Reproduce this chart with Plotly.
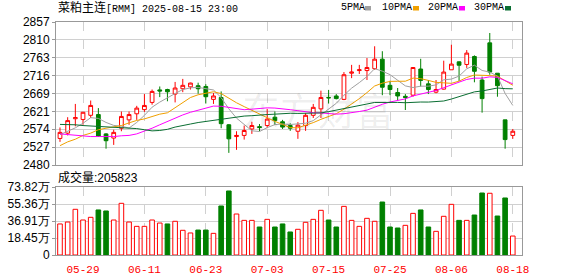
import plotly.graph_objects as go

# ---------------- data ----------------
dates = ["05-26", "05-27", "05-28", "05-29", "05-30", "06-03", "06-04", "06-05", "06-06", "06-09",
         "06-10", "06-11", "06-12", "06-13", "06-16", "06-17", "06-18", "06-19", "06-20", "06-23",
         "06-24", "06-25", "06-26", "06-27", "06-30", "07-01", "07-02", "07-03", "07-04", "07-07",
         "07-08", "07-09", "07-10", "07-11", "07-14", "07-15", "07-16", "07-17", "07-18", "07-21",
         "07-22", "07-23", "07-24", "07-25", "07-28", "07-29", "07-30", "07-31", "08-01", "08-04",
         "08-05", "08-06", "08-07", "08-08", "08-11", "08-12", "08-13", "08-14", "08-15", "08-18"]

opens = [2550, 2564, 2602, 2600, 2611, 2613, 2562, 2551, 2577, 2599,
         2615, 2626, 2645, 2678, 2679, 2667, 2681, 2686, 2689, 2687,
         2653, 2658, 2586, 2555, 2558, 2575, 2581, 2584, 2606, 2594,
         2584, 2569, 2584, 2611, 2628, 2658, 2662, 2653, 2722, 2729,
         2729, 2734, 2759, 2690, 2671, 2661, 2664, 2733, 2694, 2672,
         2680, 2731, 2752, 2745, 2766, 2704, 2802, 2722, 2599, 2558]
highs = [2579, 2606, 2641, 2620, 2650, 2630, 2564, 2573, 2621, 2621,
         2636, 2667, 2679, 2687, 2681, 2699, 2707, 2697, 2697, 2693,
         2670, 2674, 2588, 2569, 2584, 2594, 2588, 2628, 2621, 2599,
         2590, 2593, 2617, 2641, 2676, 2678, 2667, 2725, 2744, 2744,
         2762, 2793, 2780, 2702, 2683, 2667, 2738, 2760, 2704, 2704,
         2755, 2797, 2753, 2783, 2769, 2713, 2828, 2722, 2599, 2575]
lows = [2541, 2558, 2582, 2586, 2604, 2555, 2523, 2533, 2569, 2586,
        2599, 2620, 2639, 2659, 2648, 2645, 2672, 2679, 2668, 2642,
        2641, 2577, 2512, 2520, 2547, 2562, 2569, 2577, 2586, 2575,
        2570, 2549, 2570, 2604, 2604, 2642, 2653, 2651, 2709, 2720,
        2704, 2731, 2664, 2664, 2651, 2625, 2660, 2687, 2667, 2669,
        2679, 2731, 2701, 2736, 2698, 2618, 2718, 2660, 2523, 2549]
closes = [2566, 2597, 2605, 2619, 2637, 2556, 2544, 2566, 2608, 2613,
          2630, 2637, 2674, 2675, 2673, 2683, 2690, 2696, 2681, 2660,
          2662, 2589, 2549, 2558, 2571, 2584, 2579, 2601, 2597, 2580,
          2577, 2585, 2611, 2632, 2658, 2657, 2655, 2718, 2725, 2731,
          2737, 2759, 2685, 2679, 2662, 2658, 2737, 2703, 2679, 2679,
          2725, 2746, 2743, 2775, 2727, 2655, 2725, 2689, 2547, 2569]

ma5 = [2560, 2568, 2578, 2590, 2604.8, 2602.8, 2592.2, 2584.4, 2582.2, 2577.4,
       2592.2, 2610.8, 2632.4, 2645.8, 2657.8, 2668.4, 2679, 2683.4, 2684.6, 2682,
       2677.8, 2657.6, 2628.2, 2603.6, 2585.8, 2570.2, 2568.2, 2578.6, 2586.4, 2588.2,
       2586.8, 2588, 2590, 2597, 2612.6, 2628.6, 2642.6, 2664, 2682.6, 2697.2,
       2713.2, 2734, 2727.4, 2718.2, 2704.4, 2688.6, 2684.2, 2687.8, 2687.8, 2691.2,
       2704.6, 2706.4, 2714.4, 2733.6, 2743.2, 2729.2, 2725, 2714.2, 2668.6, 2637]
ma10 = [2531, 2541, 2548, 2558, 2564, 2573, 2577, 2580, 2584, 2591.1,
        2597.5, 2601.5, 2608.4, 2614, 2617.6, 2630.3, 2644.9, 2657.9, 2665.2, 2669.9,
        2673.1, 2668.3, 2655.8, 2644.1, 2633.9, 2624, 2612.9, 2603.4, 2595, 2587,
        2578.5, 2578.1, 2584.3, 2591.7, 2600.4, 2607.7, 2615.3, 2627, 2639.8, 2654.9,
        2670.9, 2688.3, 2695.7, 2700.4, 2700.8, 2700.9, 2709.1, 2707.6, 2703, 2697.8,
        2696.6, 2695.3, 2701.1, 2710.7, 2717.2, 2716.9, 2715.7, 2714.3, 2701.1, 2690.1]
ma20 = [2562, 2560, 2558, 2556, 2555, 2555, 2555, 2555, 2557, 2558,
        2562, 2569, 2577, 2586, 2595, 2604, 2612, 2619, 2625, 2630.5,
        2635.3, 2634.9, 2632.1, 2629.1, 2625.8, 2627.2, 2628.9, 2630.7, 2630.1, 2628.5,
        2625.8, 2623.2, 2620.1, 2617.9, 2617.2, 2615.9, 2614.1, 2615.2, 2617.4, 2621,
        2624.7, 2633.2, 2640, 2646.1, 2650.6, 2654.3, 2662.2, 2667.3, 2671.4, 2676.4,
        2683.8, 2691.8, 2698.4, 2705.6, 2709, 2708.9, 2712.4, 2711, 2702.1, 2694]
ma30 = [2587, 2587, 2586, 2584, 2583, 2582, 2581, 2580, 2579, 2578,
        2576, 2573, 2570, 2571, 2574, 2580, 2585, 2588, 2592, 2595,
        2598, 2601, 2604, 2606, 2609, 2610, 2612, 2613, 2614, 2616,
        2616.4, 2616, 2616.2, 2616.6, 2617.3, 2620.7, 2624.4, 2629.4, 2633.3, 2637.3,
        2640.8, 2644.9, 2645.3, 2645.4, 2645, 2644.2, 2645.8, 2646, 2645.9, 2646.6,
        2648.7, 2653.9, 2660.4, 2667.6, 2672.8, 2675.2, 2680, 2683, 2681.3, 2680.9]

volumes = [337000, 358000, 496000, 380000, 409000, 489000, 478000, 380000, 561000, 358000,
           311000, 311000, 380000, 347000, 337000, 366000, 268000, 239000, 271000, 271000,
           235000, 532000, 695000, 445000, 376000, 376000, 304000, 387000, 304000, 337000,
           250000, 279000, 355000, 387000, 485000, 380000, 304000, 528000, 376000, 311000,
           398000, 366000, 575000, 304000, 293000, 322000, 452000, 489000, 304000, 257000,
           420000, 550000, 376000, 376000, 434000, 673000, 670000, 423000, 619000, 205823]
vol_dir = ["U", "U", "U", "U", "U", "D", "D", "U", "U", "U",
           "U", "U", "U", "U", "D", "U", "U", "U", "D", "D",
           "U", "D", "D", "U", "U", "U", "D", "U", "D", "D",
           "D", "U", "U", "U", "U", "D", "D", "U", "U", "U",
           "U", "U", "D", "D", "D", "U", "U", "D", "D", "U",
           "U", "U", "D", "U", "D", "D", "U", "D", "D", "U"]

tick_dates = ["05-29", "06-11", "06-23", "07-03", "07-15", "07-25", "08-06", "08-18"]
price_ticks = [2480, 2527.125, 2574.25, 2621.375, 2668.5, 2715.625, 2762.75, 2809.875, 2857]
price_labels = ["2480", "2527", "2574", "2621", "2669", "2716", "2763", "2810", "2857"]
vol_ticks = [0, 184550, 369100, 553650, 738200]
vol_labels = ["0", "18.45万", "36.91万", "55.36万", "73.82万"]

title_name = "菜粕主连"
title_rest = "[RMM] 2025-08-15 23:00"
vol_title = "成交量:205823"
ma_names = ["5PMA", "10PMA", "20PMA", "30PMA"]

# ---------------- style ----------------
RED = "#ff0000"
GREEN = "#008000"
MA_COLORS = ["#a0a0a0", "#f0a000", "#ff00ff", "#0a6e32"]
GRID = "#d0d0d0"
FRAME = "#999999"

W, H = 578, 276
L, R, T, B = 56, 56, 22, 21
PW = W - L - R
PH = H - T - B


def px(x):
    return (x - L) / PW


def py(y):
    return (H - B - y) / PH


fig = go.Figure()

fig.add_trace(go.Candlestick(
    x=dates, open=opens, high=highs, low=lows, close=closes,
    xaxis="x", yaxis="y",
    increasing=dict(line=dict(color=RED, width=1), fillcolor="#ffffff"),
    decreasing=dict(line=dict(color=GREEN, width=1), fillcolor=GREEN),
    whiskerwidth=0, showlegend=False,
))

for name, vals, col in zip(ma_names, [ma5, ma10, ma20, ma30], MA_COLORS):
    fig.add_trace(go.Scatter(
        x=dates, y=vals, mode="lines", name=name,
        line=dict(color=col, width=1), xaxis="x", yaxis="y", showlegend=False,
    ))

fill_cols = ["#ffffff" if d == "U" else GREEN for d in vol_dir]
line_cols = [RED if d == "U" else GREEN for d in vol_dir]
fig.add_trace(go.Bar(
    x=dates, y=volumes, xaxis="x2", yaxis="y2", width=0.6,
    marker=dict(color=fill_cols, line=dict(color=line_cols, width=1)),
    showlegend=False,
))

xrange = [-0.52, 60.2]
common_x = dict(
    type="category", range=xrange, tickvals=tick_dates, ticktext=tick_dates,
    showgrid=True, gridcolor=GRID, griddash="dash", gridwidth=1,
    showline=True, linecolor=FRAME, linewidth=1, mirror=True,
    zeroline=False, fixedrange=True, automargin=False,
)
common_y = dict(
    showgrid=True, gridcolor=GRID, gridwidth=1,
    showline=True, linecolor=FRAME, linewidth=1, mirror=True,
    zeroline=False, ticks="outside", ticklen=3, tickcolor=FRAME, automargin=False,
    tickfont=dict(family="Liberation Sans, Arial", size=12, color="#000000"),
)

fig.update_layout(
    width=W, height=H,
    margin=dict(l=L, r=R, t=T, b=B, pad=0, autoexpand=False),
    paper_bgcolor="#ffffff", plot_bgcolor="#ffffff",
    showlegend=False,
    xaxis=dict(common_x, domain=[0, 1], anchor="y", showticklabels=False,
               rangeslider=dict(visible=False)),
    yaxis=dict(common_y, domain=[py(165), 1], range=[2480, 2857],
               tickvals=price_ticks, ticktext=price_labels),
    xaxis2=dict(common_x, domain=[0, 1], anchor="y2", showticklabels=True,
                ticks="", ticklabelstandoff=4,
                tickfont=dict(family="Liberation Mono, monospace", size=11, color=RED)),
    yaxis2=dict(common_y, domain=[0, py(187)], range=[0, 738200],
                tickvals=vol_ticks, ticktext=vol_labels),
)

annotations = [
    dict(x=px(318), y=py(108), xref="paper", yref="paper", text="东方财富",
         showarrow=False, font=dict(family="Noto Sans CJK SC", size=38, color="rgba(0,0,0,0.07)")),
    dict(x=px(56), y=py(8), xref="paper", yref="paper", xanchor="left", yanchor="middle",
         text=f'<span style="font-size:12px">{title_name}</span>{title_rest}', showarrow=False,
         font=dict(family="Liberation Mono, Noto Sans CJK SC", size=10, color="#000000")),
    dict(x=px(56), y=py(177), xref="paper", yref="paper", xanchor="left", yanchor="middle",
         text=vol_title, showarrow=False,
         font=dict(family="Liberation Sans, Noto Sans CJK SC", size=12, color="#000000")),
]
shapes = []
leg_text_x = [339, 380, 426, 472]
leg_sq_x = [365, 413, 459, 505]
for name, tx, sx, col in zip(ma_names, leg_text_x, leg_sq_x, MA_COLORS):
    annotations.append(dict(x=px(tx), y=py(8), xref="paper", yref="paper", xanchor="left",
                            yanchor="middle", text=name, showarrow=False,
                            font=dict(family="Liberation Mono, monospace", size=10, color="#000000")))
    shapes.append(dict(type="rect", xref="paper", yref="paper", x0=px(sx), x1=px(sx + 6),
                       y0=py(10.5), y1=py(6), fillcolor=col, line=dict(width=0)))

fig.update_layout(annotations=annotations, shapes=shapes)

fig.write_html("out.html")
